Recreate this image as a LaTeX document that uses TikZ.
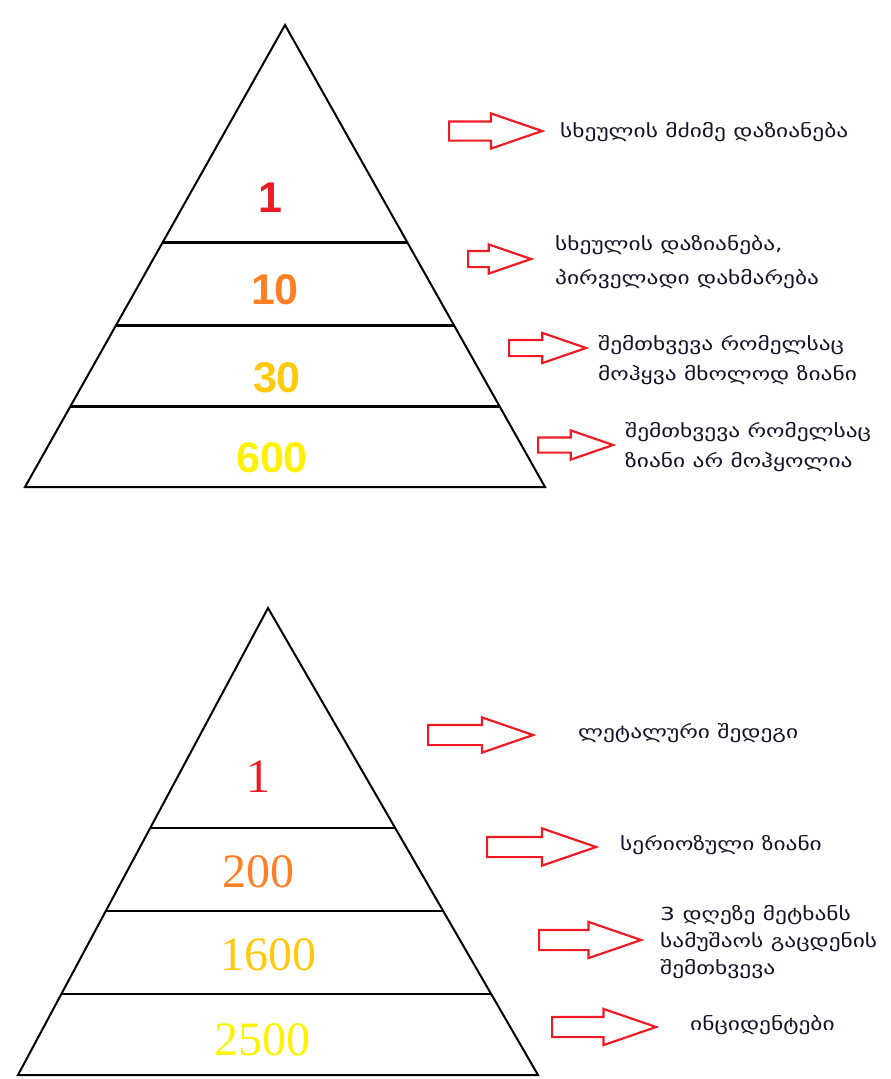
\documentclass[tikz,border=0pt]{standalone}
\usepackage{fontspec}
\newfontfamily\geo[FakeStretch=1.3]{DejaVu Sans}
\newfontfamily\numsans{Liberation Sans}
\newfontfamily\numserif{Liberation Serif}
\usetikzlibrary{shapes.arrows,calc}
\definecolor{pred}{RGB}{237,28,36}
\definecolor{porange}{RGB}{255,127,39}
\definecolor{pgold}{RGB}{255,201,14}
\definecolor{pyellow}{RGB}{255,242,0}
\definecolor{labelink}{RGB}{20,20,40}
\begin{document}
\begin{tikzpicture}[x=1pt,y=-1pt,
  hollowarrow/.style={shape=single arrow, draw=pred, line width=2.2pt, fill=white,
    single arrow tip angle=38, inner xsep=0pt, anchor=tail},
  note/.style={anchor=west, align=left, text=labelink, inner sep=0pt,
    font=\geo\fontsize{18}{30}\selectfont},
  topnum/.style={font=\numsans\bfseries\fontsize{43}{43}\selectfont, inner sep=0pt},
  botnum/.style={font=\numserif\fontsize{48}{48}\selectfont, inner sep=0pt},
  tier/.style={line width=3pt},
  tierthin/.style={line width=1.8pt},
  outline/.style={line width=2pt, line join=miter}]
\useasboundingbox (0,0) rectangle (891,1079);

% ---------- upper pyramid ----------
\coordinate (ta) at (285,25);
\coordinate (tl) at (25,487);
\coordinate (tr) at (545,487);
\draw[outline] (ta) -- (tl) -- (tr) -- cycle;
\foreach \t in {0.4697, 0.6494, 0.8247}{
  \draw[tier] ($(ta)!\t!(tl)$) -- ($(ta)!\t!(tr)$);
}
\node[topnum, text=pred]    (t1)   at (270,198) {1};
\node[topnum, text=porange] (t10)  at (275,290) {10};
\node[topnum, text=pgold]   (t30)  at (277,378) {30};
\node[topnum, text=pyellow] (t600) at (272,458) {600};

% ---------- lower pyramid ----------
\coordinate (ba) at (268,608);
\coordinate (bl) at (18,1075);
\coordinate (br) at (538,1075);
\draw[outline] (ba) -- (bl) -- (br) -- cycle;
\foreach \t in {0.4711, 0.6488, 0.8266}{
  \draw[tierthin] ($(ba)!\t!(bl)$) -- ($(ba)!\t!(br)$);
}
\node[botnum, text=pred]    (b1)    at (258,777) {1};
\node[botnum, text=porange] (b200)  at (258,872) {200};
\node[botnum, text=pgold]   (b1600) at (268,955) {1600};
\node[botnum, text=pyellow] (b2500) at (262,1040) {2500};

% ---------- pointer arrows ----------
\node[hollowarrow, minimum height=93pt, minimum width=33pt, inner ysep=8.5pt, single arrow head extend=8pt] (a1) at (448,131) {};
\node[hollowarrow, minimum height=63pt, minimum width=27pt, inner ysep=7pt, single arrow head extend=6.5pt] (a2) at (467,259) {};
\node[hollowarrow, minimum height=77pt, minimum width=28pt, inner ysep=7pt, single arrow head extend=7pt] (a3) at (508,348) {};
\node[hollowarrow, minimum height=75pt, minimum width=27pt, inner ysep=6.5pt, single arrow head extend=7pt] (a4) at (537,445) {};
\node[hollowarrow, minimum height=105pt, minimum width=33pt, inner ysep=9pt, single arrow head extend=7.5pt] (a5) at (427,735) {};
\node[hollowarrow, minimum height=109pt, minimum width=35pt, inner ysep=9pt, single arrow head extend=8.5pt] (a6) at (486,847) {};
\node[hollowarrow, minimum height=102pt, minimum width=34pt, inner ysep=9pt, single arrow head extend=8pt] (a7) at (538,940) {};
\node[hollowarrow, minimum height=104pt, minimum width=34pt, inner ysep=9pt, single arrow head extend=8pt] (a8) at (551,1027) {};

% ---------- captions ----------
\node[note] (n1) at (560,132) {სხეულის მძიმე დაზიანება};
\node[note, font=\geo\fontsize{18}{34}\selectfont] (n2) at (555,262) {სხეულის დაზიანება,\\პირველადი დახმარება};
\node[note] (n3) at (598,360) {შემთხვევა რომელსაც\\მოჰყვა მხოლოდ ზიანი};
\node[note] (n4) at (625,447) {შემთხვევა რომელსაც\\ზიანი არ მოჰყოლია};
\node[note] (n5) at (578,733) {ლეტალური შედეგი};
\node[note] (n6) at (620,845) {სერიოზული ზიანი};
\node[note, font=\geo\fontsize{18}{27}\selectfont] (n7) at (660,942) {3 დღეზე მეტხანს\\სამუშაოს გაცდენის\\შემთხვევა};
\node[note] (n8) at (690,1025) {ინციდენტები};
\end{tikzpicture}
\end{document}
